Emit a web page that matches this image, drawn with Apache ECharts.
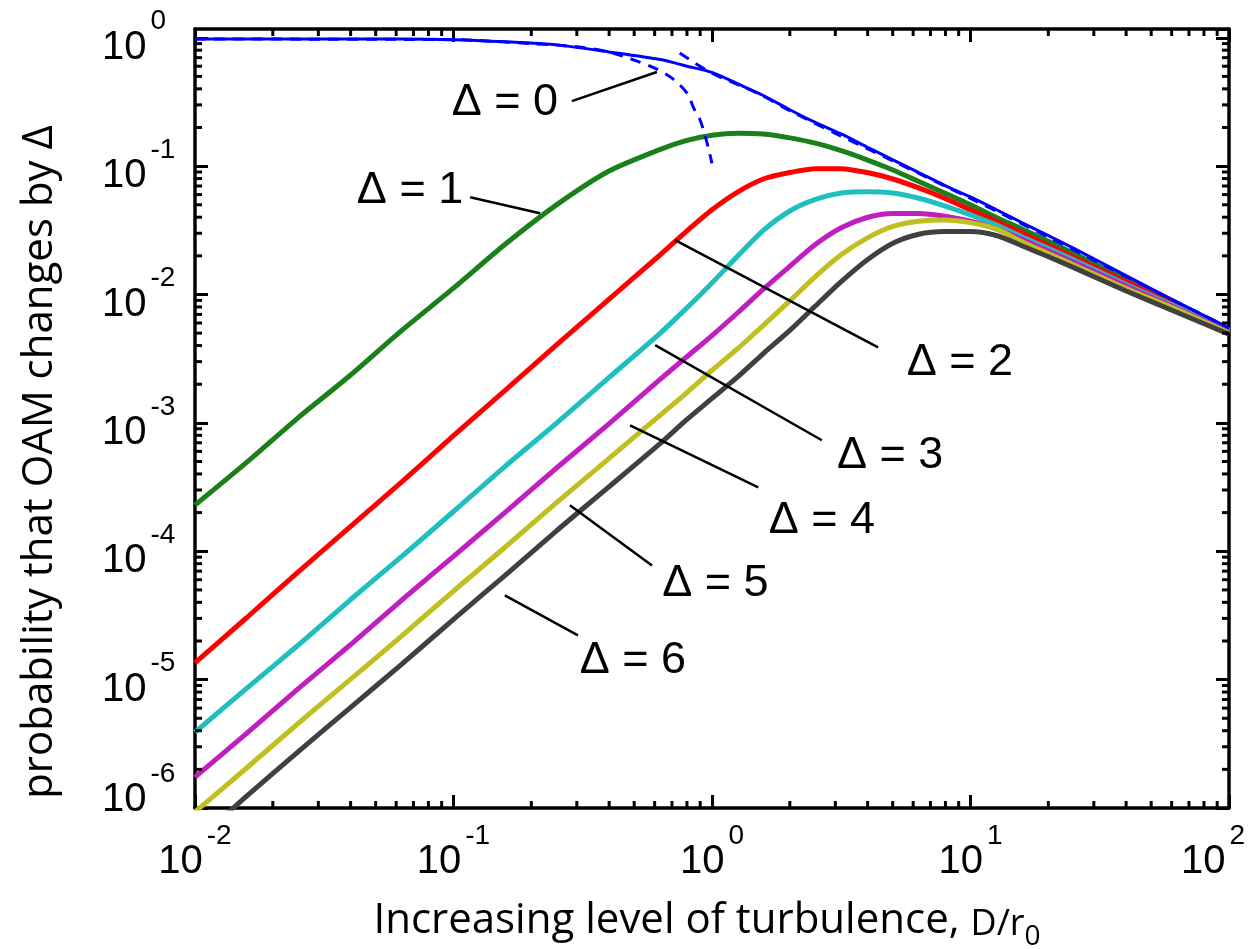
<!DOCTYPE html>
<html>
<head>
<meta charset="utf-8">
<title>Probability that OAM changes by Δ</title>
<script src="https://cdn.jsdelivr.net/npm/echarts@6/dist/echarts.min.js"></script>
<style>
  html, body { margin: 0; padding: 0; background: #fff; }
  #main { width: 1249px; height: 949px; }
</style>
</head>
<body>
<div id="main"></div>
<script>
// D/r0 sample points shared by the Δ curves
var turb = [0.01, 0.0158, 0.0251, 0.0398, 0.0631, 0.1, 0.158, 0.251, 0.398, 0.631,
            0.794, 1, 1.26, 1.58, 2.0, 2.51, 3.16, 3.98, 5.01, 6.31, 7.94,
            10, 12.6, 15.8, 25.1, 39.8, 63.1, 100];

// probability curves
var p0 = [0.977, 0.977, 0.977, 0.977, 0.977, 0.966, 0.930, 0.880, 0.776, 0.676,
          0.603, 0.537, 0.437, 0.355, 0.275, 0.219, 0.178, 0.141, 0.112, 0.0891, 0.0708,
          0.0575, 0.0457, 0.0363, 0.0229, 0.0141, 0.00871, 0.00550];
var p1 = [2.29e-4, 4.90e-4, 1.10e-3, 2.34e-3, 5.25e-3, 0.0112, 0.0245, 0.0501, 0.0912, 0.135,
          0.158, 0.174, 0.180, 0.178, 0.166, 0.151, 0.132, 0.112, 0.0933, 0.0759, 0.0617,
          0.0501, 0.0398, 0.0324, 0.0209, 0.0132, 0.00832, 0.00537];
var p2 = [1.35e-5, 3.02e-5, 6.92e-5, 1.55e-4, 3.47e-4, 7.94e-4, 1.78e-3, 4.07e-3, 9.12e-3, 0.0204,
          0.0309, 0.0457, 0.0631, 0.0794, 0.0891, 0.0955, 0.0955, 0.0891, 0.0794, 0.0676, 0.0562,
          0.0457, 0.0372, 0.0302, 0.0195, 0.0126, 0.00813, 0.00525];
var p3 = [3.89e-6, 8.51e-6, 1.86e-5, 4.17e-5, 9.12e-5, 2.04e-4, 4.57e-4, 1.00e-3, 2.24e-3, 5.01e-3,
          7.76e-3, 0.0123, 0.0200, 0.0316, 0.0447, 0.0550, 0.0617, 0.0631, 0.0617, 0.0562, 0.0490,
          0.0417, 0.0347, 0.0282, 0.0186, 0.0120, 0.00794, 0.00525];
var p4 = [1.74e-6, 3.80e-6, 8.51e-6, 1.86e-5, 4.17e-5, 9.12e-5, 2.00e-4, 4.47e-4, 9.77e-4, 2.19e-3,
          3.24e-3, 4.79e-3, 7.24e-3, 0.0110, 0.0166, 0.0245, 0.0331, 0.0398, 0.0427, 0.0427, 0.0407,
          0.0372, 0.0324, 0.0269, 0.0178, 0.0117, 0.00776, 0.00513];
var p5 = [9.33e-7, 2.04e-6, 4.57e-6, 1.00e-5, 2.19e-5, 4.90e-5, 1.07e-4, 2.40e-4, 5.25e-4, 1.15e-3,
          1.70e-3, 2.57e-3, 3.80e-3, 5.75e-3, 8.91e-3, 0.0138, 0.0204, 0.0275, 0.0339, 0.0372, 0.0380,
          0.0363, 0.0324, 0.0257, 0.0170, 0.0112, 0.00759, 0.00501];
var p6 = [5.37e-7, 1.23e-6, 2.75e-6, 6.03e-6, 1.32e-5, 2.95e-5, 6.46e-5, 1.45e-4, 3.16e-4, 6.92e-4,
          1.05e-3, 1.55e-3, 2.29e-3, 3.47e-3, 5.25e-3, 8.13e-3, 0.0126, 0.0186, 0.0251, 0.0295, 0.0309,
          0.0309, 0.0288, 0.0240, 0.0162, 0.0107, 0.00724, 0.00490];

// Δ = 0 approximations (dashed)
var dashLowX = [0.01, 0.1, 0.2, 0.3, 0.4, 0.5, 0.6, 0.7, 0.8, 0.85, 0.9, 0.95, 1.0];
var dashLowY = [0.977, 0.966, 0.90, 0.85, 0.775, 0.67, 0.58, 0.485, 0.371, 0.283, 0.228, 0.16, 0.105];
var dashHighX = [0.75, 1, 1.5, 2, 3, 5, 10, 20, 50, 100];
var dashHighY = [0.76, 0.53, 0.37, 0.27, 0.18, 0.11, 0.056, 0.028, 0.011, 0.0055];

// labels on the curves
var annoLabels = ['Δ = 0', 'Δ = 1', 'Δ = 2', 'Δ = 3', 'Δ = 4', 'Δ = 5', 'Δ = 6'];
var annoAt = [[0.158, 0.315], [0.0679, 0.065], [9.1, 0.00297], [4.89, 5.59e-4],
              [2.66, 1.74e-4], [1.03, 5.62e-5], [0.494, 1.41e-5]];
var annoFrom = [[0.287, 0.321], [0.116, 0.0573], [4.39, 0.00388], [2.66, 7.32e-4],
                [1.51, 3.15e-4], [0.586, 7.76e-5], [0.303, 2.21e-5]];
var annoTo = [[0.612, 0.541], [0.216, 0.043], [0.72, 0.0265], [0.603, 4.03e-3],
              [0.482, 9.58e-4], [0.282, 2.28e-4], [0.158, 4.53e-5]];

// axis decades / minor ticks
var xMin = 0.01, xMax = 100, yMin = 1e-6, yMax = 1.17;
var xDecades = [0.01, 0.1, 1, 10];
var yDecades = [1e-6, 1e-5, 1e-4, 1e-3, 1e-2, 0.1];
var minorMantissa = [2, 3, 4, 5, 6, 7, 8, 9];

var colors = ['#0000ff', '#1a801a', '#ff0000', '#1fbfbf', '#bf1fbf', '#bfbf1f', '#404040'];

function minorTicks(decades, limit) {
    var out = [];
    decades.forEach(function (d) {
        minorMantissa.forEach(function (m) {
            var v = +(m * d).toPrecision(3);
            if (v < limit) out.push(v);
        });
    });
    return out;
}
var xMinor = minorTicks(xDecades, xMax);
var yMinor = minorTicks(yDecades, yMax);

function pairs(xs, ys) {
    return xs.map(function (x, i) { return [x, ys[i]]; });
}

function curve(ys, color, width) {
    return {
        type: 'line',
        data: pairs(turb, ys),
        showSymbol: false,
        smooth: 0.25,
        clip: true,
        lineStyle: { color: color, width: width },
        itemStyle: { color: color },
        silent: true
    };
}

function expLabel(v, isY) {
    var l = Math.log(v) / Math.LN10;
    var e = Math.round(l);
    if (Math.abs(l - e) > 1e-6) return '';
    if (isY && e === -6) return '{b6|10}{e|' + e + '}';
    if (!isY && e === 2) return '{b|10}{e2|' + e + '}';
    return '{b|10}{e|' + e + '}';
}

// base "10" pushed down by its top padding, exponent sits at the top of the line
var labelFont = 'Liberation Sans';
var labelRich = {
    b: { fontSize: 40, fontFamily: labelFont, color: '#000', padding: [20, 0, 0, 0], verticalAlign: 'bottom' },
    b6: { fontSize: 40, fontFamily: labelFont, color: '#000', padding: [20, 0, 36, 0], verticalAlign: 'bottom' },
    e: { fontSize: 28, fontFamily: labelFont, color: '#000', padding: [0, 0, 0, 4], verticalAlign: 'top' },
    e2: { fontSize: 28, fontFamily: labelFont, color: '#000', padding: [0, 32, 0, 4], verticalAlign: 'top' }
};

var frameLine = { show: true, onZero: false, lineStyle: { color: '#000', width: 3.5 } };
var majorTick = { show: true, inside: true, length: 13, lineStyle: { color: '#000', width: 3 } };

function tickSeries(values, isX) {
    return {
        type: 'custom',
        silent: true,
        clip: false,
        z: 5,
        data: values.map(function (v) { return isX ? [v, 1e-3] : [1, v]; }),
        renderItem: function (params, api) {
            var cs = params.coordSys;
            var p = api.coord([api.value(0), api.value(1)]);
            var len = 7;
            var segs = isX
                ? [[p[0], cs.y + cs.height, p[0], cs.y + cs.height - len], [p[0], cs.y, p[0], cs.y + len]]
                : [[cs.x, p[1], cs.x + len, p[1]], [cs.x + cs.width, p[1], cs.x + cs.width - len, p[1]]];
            return {
                type: 'group',
                children: segs.map(function (s) {
                    return { type: 'line', shape: { x1: s[0], y1: s[1], x2: s[2], y2: s[3] },
                             style: { stroke: '#000', lineWidth: 3 } };
                })
            };
        }
    };
}

var chart = echarts.init(document.getElementById('main'), null, { renderer: 'canvas' });

var option = {
    animation: false,
    backgroundColor: '#fff',
    grid: { left: 195, right: 20, top: 29, bottom: 141, containLabel: false, outerBoundsMode: 'none' },
    xAxis: [
        {
            type: 'log', min: xMin, max: xMax, position: 'bottom',
            axisLine: frameLine, axisTick: majorTick, splitLine: { show: false },
            axisLabel: { margin: 14, formatter: function (v) { return expLabel(v, false); }, rich: labelRich }
        },
        {
            type: 'log', min: xMin, max: xMax, position: 'top', gridIndex: 0,
            axisLine: frameLine, axisTick: majorTick, splitLine: { show: false },
            axisLabel: { show: false }
        }
    ],
    yAxis: [
        {
            type: 'log', min: yMin, max: yMax, position: 'left',
            axisLine: frameLine, axisTick: majorTick, splitLine: { show: false },
            axisLabel: { margin: 93, align: 'left', showMaxLabel: false,
                         formatter: function (v) { return expLabel(v, true); }, rich: labelRich }
        },
        {
            type: 'log', min: yMin, max: yMax, position: 'right', gridIndex: 0,
            axisLine: frameLine, axisTick: majorTick, splitLine: { show: false },
            axisLabel: { show: false }
        }
    ],
    graphic: [
        {
            type: 'text', x: 707, y: 926, silent: true,
            style: {
                text: '{m|Increasing level of turbulence, }{d|D/r}{s|0}',
                align: 'center', verticalAlign: 'middle',
                rich: {
                    m: { fontSize: 42, fontFamily: 'Open Sans', color: '#000', padding: [0, 0, 9, 0], verticalAlign: 'bottom' },
                    d: { fontSize: 36, fontFamily: 'Open Sans', color: '#000', padding: [0, 0, 9, 0], verticalAlign: 'bottom' },
                    s: { fontSize: 28, fontFamily: 'Open Sans', color: '#000', verticalAlign: 'bottom' }
                }
            }
        },
        {
            type: 'text', x: 40, y: 462, rotation: Math.PI / 2, silent: true,
            style: {
                text: 'probability that OAM changes by Δ',
                fontSize: 42, fontFamily: 'Open Sans', fill: '#000',
                align: 'center', verticalAlign: 'middle'
            }
        }
    ],
    series: [
        curve(p1, colors[1], 5),
        curve(p2, colors[2], 5),
        curve(p3, colors[3], 5),
        curve(p4, colors[4], 5),
        curve(p5, colors[5], 5),
        curve(p6, colors[6], 5),
        {
            type: 'line', data: pairs(dashLowX, dashLowY), showSymbol: false, smooth: 0.3, clip: true,
            lineStyle: { color: colors[0], width: 3, type: [11, 8] }, silent: true
        },
        {
            type: 'line', data: pairs(dashHighX, dashHighY), showSymbol: false, smooth: 0.3, clip: true,
            lineStyle: { color: colors[0], width: 3, type: [11, 8] }, silent: true
        },
        curve(p0, colors[0], 3),
        tickSeries(xMinor, true),
        tickSeries(yMinor, false),
        {
            type: 'custom',
            silent: true,
            clip: false,
            z: 6,
            data: annoAt,
            renderItem: function (params, api) {
                var i = params.dataIndex;
                var c = api.coord([api.value(0), api.value(1)]);
                var a = api.coord(annoFrom[i]);
                var b = api.coord(annoTo[i]);
                return {
                    type: 'group',
                    children: [
                        { type: 'line', shape: { x1: a[0], y1: a[1], x2: b[0], y2: b[1] },
                          style: { stroke: '#000', lineWidth: 2.5 } },
                        { type: 'text', style: { text: annoLabels[i], x: c[0], y: c[1],
                          align: 'center', verticalAlign: 'middle',
                          fontSize: 45, fontFamily: labelFont, fill: '#000' } }
                    ]
                };
            }
        }
    ]
};

chart.setOption(option);
</script>
</body>
</html>
